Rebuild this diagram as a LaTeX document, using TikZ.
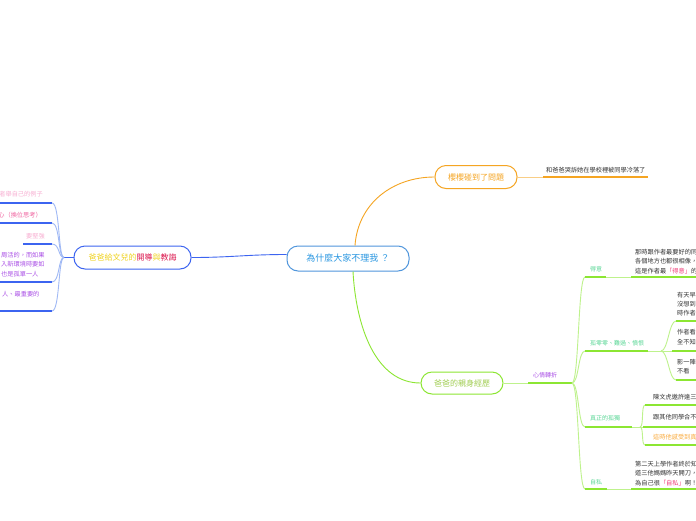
\documentclass[tikz,border=0pt]{standalone}
\usepackage{fontspec}
\setmainfont{Noto Sans CJK TC}
\usetikzlibrary{positioning,calc}
\definecolor{rootline}{RGB}{80,150,220}
\definecolor{roottxt}{RGB}{40,150,225}
\definecolor{orng}{RGB}{245,165,35}
\definecolor{orngtxt}{RGB}{250,170,60}
\definecolor{lblue}{RGB}{60,100,240}
\definecolor{lbluel}{RGB}{160,185,245}
\definecolor{ytxt}{RGB}{240,210,30}
\definecolor{rtxt}{RGB}{220,25,80}
\definecolor{lime}{RGB}{140,230,50}
\definecolor{limel}{RGB}{190,242,140}
\definecolor{limetxt}{RGB}{160,205,80}
\definecolor{mint}{RGB}{90,215,150}
\definecolor{purp}{RGB}{170,80,230}
\definecolor{hot}{RGB}{240,60,120}
\definecolor{pinkl}{RGB}{248,175,210}
\definecolor{pinkm}{RGB}{240,100,160}
\definecolor{bodytxt}{RGB}{50,50,50}
\tikzset{
  % rounded topic box
  topic/.style = {rectangle, rounded corners=11pt, line width=1pt, fill=white,
                  align=center, inner sep=2pt, font=\fontsize{8}{8}\selectfont},
  % small leaf text
  note/.style  = {inner sep=0pt, align=left, text=bodytxt,
                  font=\fontsize{6.2}{9.3}\selectfont},
  % branch label (short)
  tag/.style   = {inner sep=0pt, anchor=west, font=\fontsize{6}{6}\selectfont},
  % lines
  uline/.style = {line width=1.8pt},
  link/.style  = {line width=0.9pt},
}
\begin{document}
\begin{tikzpicture}[x=1pt,y=-1pt]
  \clip (0,0) rectangle (696,520);
  \fill[white] (0,0) rectangle (696,520);

  % --- central topic ---
  \node[topic, draw=rootline, text=roottxt, minimum width=122pt, minimum height=25pt,
        font=\fontsize{9}{9}\selectfont] (root) at (348,258.5) {為什麼大家不理我 ？};

  % --- orange branch ---
  \node[topic, draw=orng, text=orng, minimum width=82pt, minimum height=23pt] (issue)
       at (476,177) {櫻櫻碰到了問題};
  \draw[link, orng] ([xshift=7pt]root.north) .. controls +(3,-42) and +(-42,0) .. (issue.west);

  \node[note, anchor=west] (cry) at (546,170) {和爸爸哭訴她在學校裡被同學冷落了};
  \coordinate (cry-l) at (543,177); \coordinate (cry-r) at (648,177);
  \draw[link, orng!55] (issue.east) -- (cry-l);
  \draw[uline, orng] (cry-l) -- (cry-r);

  % --- blue branch ---
  \node[topic, draw=lblue, minimum width=117pt, minimum height=23pt] (talk) at (132.5,257.5)
       {\textcolor{ytxt}{爸爸給文兒的}\textcolor{rtxt}{開導}\textcolor{ytxt}{與}\textcolor{rtxt}{教誨}};
  \draw[link, lblue] (talk.east) .. controls +(40,0) and +(-40,0) .. ([yshift=4pt]root.west);

  \coordinate (hub-l) at (64,257.5);
  \draw[link, lblue] (talk.west) -- (hub-l);

  % leaves on the left (cut by the page edge)
  \node[note, text=pinkl, anchor=east] (eg) at (43,194) {作者舉自己的例子};
  \node[note, text=pinkm, anchor=east] (empathy) at (42,215) {同理心（換位思考）};
  \node[note, text=pinkl, anchor=east] (strong) at (45,236) {要堅強};
  \node[note, text=purp, anchor=west] (alone) at (1,264.5) {周活的，而如果\\入新環境時要如\\也是孤單一人};
  \node[note, text=purp, anchor=west] (most) at (2,294) {人、最重要的};

  \coordinate (eg-l) at (0,203);      \coordinate (eg-r) at (52,203);
  \coordinate (empathy-l) at (0,223); \coordinate (empathy-r) at (52,223);
  \coordinate (strong-l) at (23,244); \coordinate (strong-r) at (52,244);
  \coordinate (alone-l) at (0,282);   \coordinate (alone-r) at (52,282);
  \coordinate (most-l) at (0,311);    \coordinate (most-r) at (52,311);

  \draw[uline, lblue] (eg-l) -- (eg-r);
  \draw[uline, lblue] (empathy-l) -- (empathy-r);
  \draw[uline, lblue] (strong-l) -- (strong-r);
  \draw[uline, lblue] (alone-l) -- (alone-r);
  \draw[uline, lblue] (most-l) -- (most-r);

  \draw[link, lbluel] (hub-l) .. controls +(-6,0) and +(8,0) .. (eg-r);
  \draw[link, lbluel] (hub-l) .. controls +(-6,0) and +(8,0) .. (empathy-r);
  \draw[link, lbluel] (hub-l) .. controls +(-6,0) and +(8,0) .. (strong-r);
  \draw[link, lbluel] (hub-l) .. controls +(-6,0) and +(8,0) .. (alone-r);
  \draw[link, lbluel] (hub-l) .. controls +(-6,0) and +(8,0) .. (most-r);

  % --- green branch ---
  \node[topic, draw=lime, text=limetxt, minimum width=82pt, minimum height=22pt] (dad)
       at (462,383) {爸爸的親身經歷};
  \draw[link, lime] ([xshift=5pt]root.south) .. controls +(3,55) and +(-45,0) .. (dad.west);

  \node[tag, text=purp] (mood) at (533,375) {心情轉折};
  \coordinate (mood-l) at (528,383); \coordinate (mood-r) at (572,383);
  \draw[link, limel] (dad.east) -- (mood-l);
  \draw[uline, lime] (mood-l) -- (mood-r);

  % stage 1: proud
  \node[tag, text=mint] (proud) at (590,269) {得意};
  \coordinate (proud-l) at (585,277); \coordinate (proud-r) at (606,277);
  \draw[link, limel] (mood-r) .. controls +(7,0) and +(-7,0) .. (proud-l);
  \draw[uline, lime] (proud-l) -- (proud-r);
  \node[note, anchor=west] (friend) at (635,261.5)
       {那時跟作者最要好的同學\\各個地方也都很相像，\\這是作者最\textcolor{hot}{「得意」}的事};
  \coordinate (friend-l) at (631,277); \coordinate (friend-r) at (696,277);
  \draw[link, limel] (proud-r) -- (friend-l);
  \draw[uline, lime] (friend-l) -- (friend-r);

  % stage 2: lonely
  \node[tag, text=mint] (sad) at (590,343) {孤零零、難過、憤恨};
  \coordinate (sad-l) at (585,351); \coordinate (sad-r) at (648,351);
  \coordinate (sad-hub) at (661,351);
  \draw[link, limel] (mood-r) .. controls +(7,0) and +(-7,0) .. (sad-l);
  \draw[uline, lime] (sad-l) -- (sad-r);
  \draw[link, limel] (sad-r) -- (sad-hub);

  \node[note, anchor=west] (morning) at (677,304) {有天早上\\沒想到\\時作者};
  \node[note, anchor=west] (saw) at (677,337) {作者看\\全不知};
  \node[note, anchor=west] (while) at (677,366.5) {影一陣\\不看};
  \coordinate (morning-l) at (676,321); \coordinate (morning-r) at (696,321);
  \coordinate (saw-l) at (672,351);     \coordinate (saw-r) at (696,351);
  \coordinate (while-l) at (676,380);   \coordinate (while-r) at (696,380);
  \draw[link, limel] (sad-hub) .. controls +(7,0) and +(-7,0) .. (morning-l);
  \draw[link, limel] (sad-hub) -- (saw-l);
  \draw[link, limel] (sad-hub) .. controls +(7,0) and +(-7,0) .. (while-l);
  \draw[uline, lime] (morning-l) -- (morning-r);
  \draw[uline, lime] (saw-l) -- (saw-r);
  \draw[uline, lime] (while-l) -- (while-r);

  % stage 3: solitude
  \node[tag, text=mint] (solo) at (590,418) {真正的孤獨};
  \coordinate (solo-l) at (585,427); \coordinate (solo-r) at (632,427);
  \coordinate (solo-hub) at (640,427);
  \draw[link, limel] (mood-r) .. controls +(7,0) and +(-7,0) .. (solo-l);
  \draw[uline, lime] (solo-l) -- (solo-r);
  \draw[link, limel] (solo-r) -- (solo-hub);

  \node[note, anchor=west] (invite) at (653,397) {陳文虎邀許達三};
  \node[note, anchor=west] (apart) at (653,417) {跟其他同學合不來};
  \node[note, anchor=west, text=orngtxt] (felt) at (653,437) {這時他感受到真正的孤獨};
  \coordinate (invite-l) at (645,405); \coordinate (invite-r) at (696,405);
  \coordinate (apart-l) at (643,427);  \coordinate (apart-r) at (696,427);
  \coordinate (felt-l) at (645,445);   \coordinate (felt-r) at (696,445);
  \draw[link, limel] (solo-hub) .. controls +(4,0) and +(-4,0) .. (invite-l);
  \draw[link, limel] (solo-hub) -- (apart-l);
  \draw[link, limel] (solo-hub) .. controls +(4,0) and +(-4,0) .. (felt-l);
  \draw[uline, lime] (invite-l) -- (invite-r);
  \draw[uline, lime] (apart-l) -- (apart-r);
  \draw[uline, lime] (felt-l) -- (felt-r);

  % stage 4: selfish
  \node[tag, text=mint] (self) at (590,482) {自私};
  \coordinate (self-l) at (585,489); \coordinate (self-r) at (607,489);
  \draw[link, limel] (mood-r) .. controls +(7,0) and +(-7,0) .. (self-l);
  \draw[uline, lime] (self-l) -- (self-r);
  \node[note, anchor=west] (sorry) at (635,473.5)
       {第二天上學作者終於知道\\道三他媽媽昨天開刀，\\為自己很\textcolor{hot}{「自私」}啊！};
  \coordinate (sorry-l) at (631,489); \coordinate (sorry-r) at (696,489);
  \draw[link, limel] (self-r) -- (sorry-l);
  \draw[uline, lime] (sorry-l) -- (sorry-r);

\end{tikzpicture}
\end{document}
